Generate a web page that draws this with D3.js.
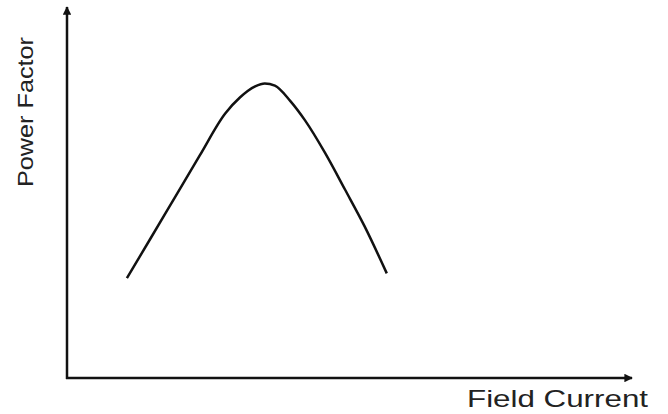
<html>
  <head>
    <script src="https://d3js.org/d3.v7.min.js"></script>
    <style>
      body {
        margin: 0;
        background: #fff;
      }
      .axis-line {
        stroke: #111;
        stroke-width: 2.5px;
      }
      .curve {
        fill: none;
        stroke: #111;
        stroke-width: 2.5px;
      }
      .label {
        font-family: "Liberation Sans", Arial, sans-serif;
        fill: #222;
      }
    </style>
  </head>
  <body>
    <svg id="chart" width="668" height="414"></svg>
    <script>
      // values (field current in arbitrary units, power factor 0..1)
      const fieldCurrent = [1.06, 1.47, 1.91, 2.35, 2.8, 3.06, 3.33, 3.5, 3.68, 3.95, 4.21, 4.57, 4.92, 5.27, 5.66];
      const powerFactor = [0.269, 0.374, 0.487, 0.6, 0.713, 0.756, 0.786, 0.794, 0.788, 0.747, 0.695, 0.606, 0.508, 0.408, 0.282];
      const xLabel = "Field Current";
      const yLabel = "Power Factor";

      const svg = d3.select("#chart");

      const x = d3.scaleLinear().domain([0, 10]).range([67, 632]);
      const y = d3.scaleLinear().domain([0, 1]).range([378, 7]);

      // arrow heads
      const defs = svg.append("defs");
      defs
        .append("marker")
        .attr("id", "arrow")
        .attr("viewBox", "0 0 10 10")
        .attr("refX", 9)
        .attr("refY", 5)
        .attr("markerWidth", 4.2)
        .attr("markerHeight", 3.4)
        .attr("markerUnits", "strokeWidth")
        .attr("orient", "auto")
        .append("path")
        .attr("d", "M0,0 L10,5 L0,10 z")
        .attr("fill", "#111");

      // y axis
      svg
        .append("line")
        .attr("class", "axis-line")
        .attr("x1", x(0))
        .attr("y1", y(0) + 1)
        .attr("x2", x(0))
        .attr("y2", y(1))
        .attr("marker-end", "url(#arrow)");

      // x axis
      svg
        .append("line")
        .attr("class", "axis-line")
        .attr("x1", x(0) - 1)
        .attr("y1", y(0))
        .attr("x2", x(10))
        .attr("y2", y(0))
        .attr("marker-end", "url(#arrow)");

      const pts = fieldCurrent.map((d, i) => [d, powerFactor[i]]);
      const line = d3
        .line()
        .x((d) => x(d[0]))
        .y((d) => y(d[1]))
        .curve(d3.curveMonotoneX);

      svg.append("path").datum(pts).attr("class", "curve").attr("d", line);

      svg
        .append("text")
        .attr("class", "label")
        .attr("x", 467)
        .attr("y", 407)
        .attr("font-size", 24)
        .attr("textLength", 181)
        .attr("lengthAdjust", "spacingAndGlyphs")
        .text(xLabel);

      svg
        .append("text")
        .attr("class", "label")
        .attr("transform", "translate(33,187) rotate(-90)")
        .attr("font-size", 22.5)
        .attr("textLength", 150)
        .attr("lengthAdjust", "spacingAndGlyphs")
        .text(yLabel);
    </script>
  </body>
</html>
